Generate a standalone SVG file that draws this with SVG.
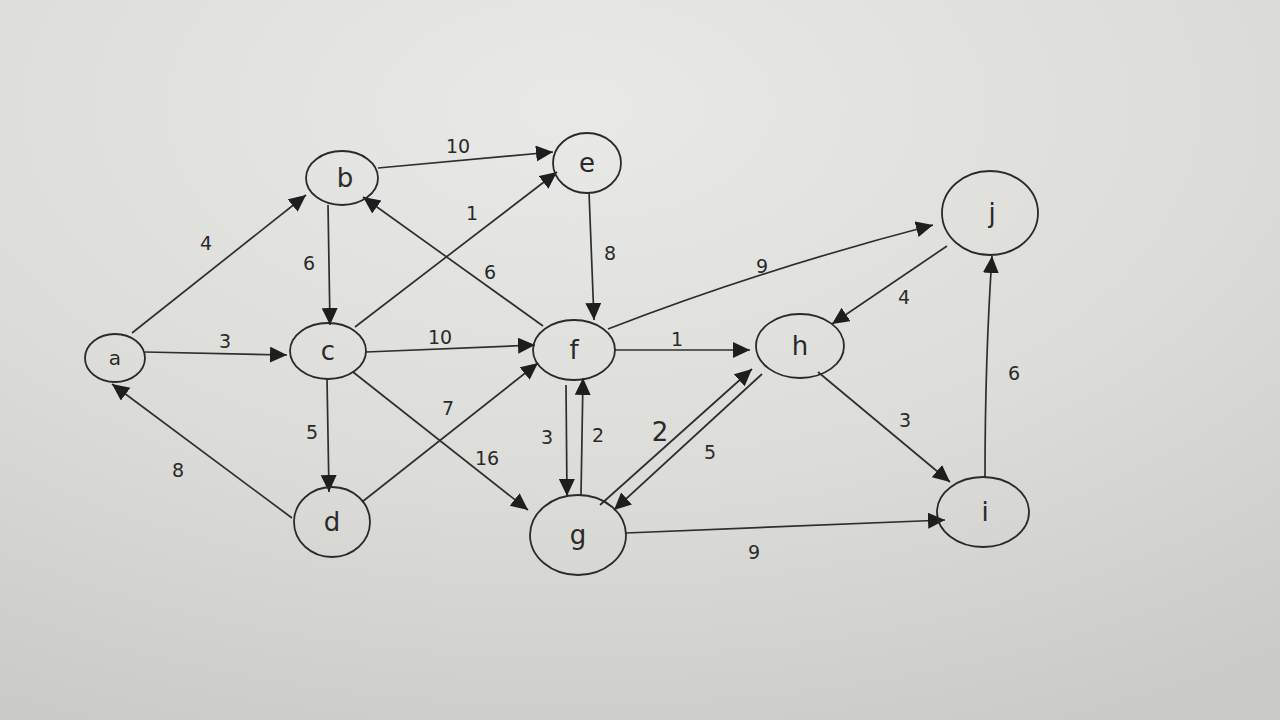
<svg xmlns="http://www.w3.org/2000/svg" width="1280" height="720" viewBox="0 0 1280 720">
<defs>
<radialGradient id="bg" cx="0.45" cy="0.15" r="0.95">
<stop offset="0" stop-color="#e9e9e7"/>
<stop offset="0.55" stop-color="#dcdcd9"/>
<stop offset="1" stop-color="#cacac6"/>
</radialGradient>
<marker id="ah" markerUnits="userSpaceOnUse" markerWidth="20" markerHeight="18" refX="17" refY="8" orient="auto">
<path d="M0,0 L17,8 L0,16 z" fill="#1e1e1e"/>
</marker>
<style>
.n ellipse{fill:none;stroke:#2a2a2a;stroke-width:1.8}
.n text{font-family:"DejaVu Sans",sans-serif;font-size:26px;fill:#2a2a2a;text-anchor:middle;dominant-baseline:central}
.e path{fill:none;stroke:#2e2e2e;stroke-width:1.7;marker-end:url(#ah)}
.l text{font-family:"DejaVu Sans",sans-serif;font-size:19px;fill:#2a2a2a;text-anchor:middle;dominant-baseline:central}
</style>
</defs>
<rect width="1280" height="720" fill="url(#bg)"/>
<g id="connectors" class="e">
<path d="M132,333 L306,195"/>
<path d="M145,352 L287,355"/>
<path d="M292,518 L112,384"/>
<path d="M378,168 L553,152"/>
<path d="M328,205 L330,325"/>
<path d="M355,327 L557,172"/>
<path d="M543,326 L363,197"/>
<path d="M589,192 L594,320"/>
<path d="M366,352 L535,345"/>
<path d="M327,379 L329,492"/>
<path d="M353,372 L528,510"/>
<path d="M362,502 L538,363"/>
<path d="M566,385 L567,496"/>
<path d="M581,495 L583,378"/>
<path d="M600,505 L752,369"/>
<path d="M762,374 L614,510"/>
<path d="M614,350 L750,350"/>
<path d="M608,329 Q760,270 933,225"/>
<path d="M947,246 L832,324"/>
<path d="M818,372 L950,482"/>
<path d="M985,478 Q985,360 992,256"/>
<path d="M626,533 L945,520"/>
</g>
<g id="labels" class="l">
<text x="206" y="243">4</text>
<text x="225" y="341">3</text>
<text x="178" y="470">8</text>
<text x="458" y="146">10</text>
<text x="309" y="263">6</text>
<text x="472" y="213">1</text>
<text x="490" y="272">6</text>
<text x="610" y="253">8</text>
<text x="440" y="337">10</text>
<text x="312" y="432">5</text>
<text x="487" y="458">16</text>
<text x="448" y="408">7</text>
<text x="547" y="437">3</text>
<text x="598" y="435">2</text>
<text x="660" y="432" style="font-size:26px">2</text>
<text x="710" y="452">5</text>
<text x="677" y="339">1</text>
<text x="762" y="266">9</text>
<text x="904" y="297">4</text>
<text x="905" y="420">3</text>
<text x="1014" y="373">6</text>
<text x="754" y="552">9</text>
</g>
<g id="node-a" class="n"><ellipse cx="115" cy="358" rx="30" ry="24"/><text x="115" y="358" style="font-size:20px">a</text></g>
<g id="node-b" class="n"><ellipse cx="342" cy="178" rx="36" ry="27"/><text x="345" y="178">b</text></g>
<g id="node-c" class="n"><ellipse cx="328" cy="351" rx="38" ry="28"/><text x="328" y="351">c</text></g>
<g id="node-d" class="n"><ellipse cx="332" cy="522" rx="38" ry="35"/><text x="332" y="522">d</text></g>
<g id="node-e" class="n"><ellipse cx="587" cy="163" rx="34" ry="30"/><text x="587" y="163">e</text></g>
<g id="node-f" class="n"><ellipse cx="574" cy="350" rx="41" ry="30"/><text x="574" y="350">f</text></g>
<g id="node-g" class="n"><ellipse cx="578" cy="535" rx="48" ry="40"/><text x="578" y="535">g</text></g>
<g id="node-h" class="n"><ellipse cx="800" cy="346" rx="44" ry="32"/><text x="800" y="346">h</text></g>
<g id="node-i" class="n"><ellipse cx="983" cy="512" rx="46" ry="35"/><text x="985" y="512">i</text></g>
<g id="node-j" class="n"><ellipse cx="990" cy="213" rx="48" ry="42"/><text x="992" y="213">j</text></g>
</svg>
